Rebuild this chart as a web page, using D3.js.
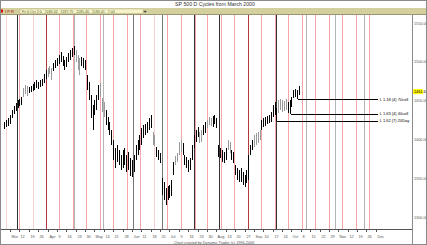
<!DOCTYPE html>
<html>
<head>
<meta charset="utf-8">
<script src="https://cdn.jsdelivr.net/npm/d3@7"></script>
<style>
  body { margin: 0; background: #fff; }
  svg { display: block; font-family: "Liberation Sans", Arial, sans-serif; }
</style>
</head>
<body>
<svg id="chart" width="427" height="245"></svg>
<script>
// daily bars
var highs = [1422,1425,1428,1431,1438,1443,1447,1451,1452,1455,
    1466,1470,1469,1468,1469,1471,1474,1477,1474,1477,
    1478,1484,1489,1492,1495,1492,1498,1502,1505,1509,
    1513,1507,1502,1506,1511,1515,1518,1520,1515,1509,
    1505,1506,1505,1502,1483,1474,1457,1444,1451,1457,
    1470,1473,1453,1448,1438,1429,1422,1412,1399,1389,
    1393,1386,1380,1386,1389,1380,1384,1376,1373,1380,
    1393,1399,1406,1415,1419,1420,1422,1428,1431,1410,
    1406,1390,1386,1383,1350,1345,1337,1340,1341,1348,
    1371,1379,1382,1397,1399,1395,1380,1377,1373,1376,
    1393,1406,1412,1416,1410,1412,1419,1422,1425,1429,
    1428,1430,1431,1428,1393,1389,1386,1384,1389,1399,
    1397,1386,1384,1367,1363,1361,1363,1358,1354,1361,
    1380,1393,1399,1406,1408,1410,1412,1425,1428,1429,
    1430,1431,1435,1444,1448,1440,1451,1452,1451,1449,
    1452,1448,1451,1455,1464,1465,1464,1469];
var lows = [1413,1416,1417,1420,1428,1433,1437,1440,1443,1444,
    1455,1459,1456,1460,1461,1462,1464,1466,1465,1468,
    1469,1473,1478,1480,1484,1477,1488,1492,1495,1497,
    1500,1495,1489,1493,1500,1502,1506,1509,1500,1489,
    1483,1495,1492,1489,1464,1451,1428,1412,1431,1438,
    1451,1455,1435,1429,1419,1412,1406,1393,1373,1363,
    1371,1367,1361,1363,1367,1358,1361,1353,1352,1358,
    1373,1380,1386,1393,1402,1406,1408,1412,1415,1393,
    1392,1377,1373,1370,1328,1322,1315,1322,1324,1327,
    1354,1367,1371,1380,1384,1380,1367,1363,1358,1361,
    1373,1389,1397,1403,1395,1397,1406,1408,1415,1419,
    1417,1416,1420,1415,1377,1376,1371,1370,1373,1386,
    1382,1373,1370,1354,1348,1345,1345,1341,1339,1344,
    1348,1380,1386,1390,1393,1395,1399,1412,1416,1417,
    1420,1421,1422,1429,1431,1424,1434,1438,1435,1437,
    1438,1434,1433,1442,1453,1455,1452,1457];
var lastClose = 1461.62;

// bars drawn grey (time bands)
var greyRanges = [[10,12],[23,25],[38,40],[51,53],[79,80],[91,94],[104,105],[108,110],[119,120],[133,136],[146,150]];

// cycle dates, in bar units
var cyclesFaint = [0.6, 15, 79.5];
var cyclesPink = [7.8, 29.3, 36.5, 43.7, 50.9, 58, 65.2, 72.3, 86.7, 93.9, 101.8, 108.2, 115.4, 122.6, 136.9, 144.1, 151.3, 158.5, 165.6, 172.8, 180, 187.2, 194.3];
var cyclesDark = [22.1, 129.7];
var timeBlack = [6.7, 101.0, 114.4, 144.8];
var timeDarkGrey = [68.6, 84];
var timeGrey = [37.1, 52.6, 160.8, 176.2, 191.7];

// price targets
var levelStart = [156, 152, 145];
var levelPrice = [1452, 1433, 1424];
var levelNames = ["L 1.18 (4) 70cell", "L 1.63 (4) 40cell", "L 1.62 (7) 20Day"];

var priceTicks = [1300, 1350, 1400, 1450, 1500, 1550];
var weekLabels = ["Mar","12","19","26","Apr","9","16","23","30","May","14","21","28","Jun","11","18","25",
    "Jul","9","16","23","30","Aug","13","20","27","Sep","10","17","24","Oct","8","15","22","29",
    "Nov","12","19","26","Dec"];

var title = "SP 500 D Cycles from March 2000";
var quote = "Fri 6 Oct 2:0   1186.34   1187.75   1185.46   1186.01   7.04";
var credit = "Chart created by Dynamic Trader (c) 1996-2006";

var W = 427, H = 245;
var plotRight = 412, plotTop = 15, axisY = 229;

var svg = d3.select("#chart");

var x = d3.scaleLinear().domain([0, 199]).range([4.4, 377.7]);
var y = d3.scaleLinear().domain([1300, 1550]).range([217, 23]);

function px(v) { return Math.round(x(v)) + 0.5; }
function isGrey(i) {
    return greyRanges.some(function (r) { return i >= r[0] && i <= r[1]; });
}

svg.append("rect").attr("width", W).attr("height", H).attr("fill", "#fff");

// title strip
svg.append("text")
    .attr("x", 215).attr("y", 6)
    .attr("text-anchor", "middle")
    .attr("font-size", 5.2)
    .attr("fill", "#333")
    .text(title);

// khaki toolbar
svg.append("rect").attr("x", 0).attr("y", 8).attr("width", W).attr("height", 6)
    .attr("fill", "#d3cf9f");
svg.append("line").attr("x1", 0).attr("x2", W).attr("y1", 14.5).attr("y2", 14.5)
    .attr("stroke", "#9a9670");
svg.append("rect").attr("x", 1).attr("y", 9.5).attr("width", 2).attr("height", 3).attr("fill", "#d00");
svg.append("text").attr("x", 5).attr("y", 13).attr("font-size", 4).attr("fill", "#a00").text("I P R");
svg.append("rect").attr("x", 20).attr("y", 9).attr("width", 123).attr("height", 4.5)
    .attr("fill", "#f6f3c8").attr("stroke", "#b8b48a").attr("stroke-width", 0.5);
svg.append("text").attr("x", 22).attr("y", 12.6).attr("font-size", 3.6).attr("fill", "#556b2f")
    .attr("xml:space", "preserve").text(quote);
svg.append("text").attr("x", 145).attr("y", 13.2).attr("font-size", 6).attr("text-anchor", "middle")
    .attr("fill", "#000").text("+");

// cycle lines
function cycleLines(list, colour) {
    svg.append("g").selectAll("line").data(list).join("line")
        .attr("x1", px).attr("x2", px)
        .attr("y1", plotTop).attr("y2", axisY)
        .attr("stroke", colour).attr("stroke-width", 1)
        .attr("shape-rendering", "crispEdges");
}
cycleLines(cyclesFaint, "#fad2d2");
cycleLines(cyclesPink, "#f5a5a5");
cycleLines(cyclesDark, "#b03a3a");
cycleLines(timeGrey, "#b4b4b4");
cycleLines(timeDarkGrey, "#767676");
cycleLines(timeBlack, "#333");

// price bars
svg.append("g").selectAll("line").data(d3.range(highs.length)).join("line")
    .attr("x1", px).attr("x2", px)
    .attr("y1", function (i) { return y(highs[i]); })
    .attr("y2", function (i) { return y(lows[i]); })
    .attr("stroke", function (i) { return isGrey(i) ? "#9a9a9a" : "#000"; })
    .attr("stroke-width", 1)
    .attr("shape-rendering", "crispEdges");

// target levels
var levels = svg.append("g").selectAll("g").data(levelPrice).join("g");
levels.append("line")
    .attr("x1", function (d, i) { return px(levelStart[i]); })
    .attr("x2", x(199))
    .attr("y1", function (d) { return Math.round(y(d)) + 0.5; })
    .attr("y2", function (d) { return Math.round(y(d)) + 0.5; })
    .attr("stroke", "#000").attr("stroke-width", 1)
    .attr("shape-rendering", "crispEdges");
levels.append("text")
    .attr("x", x(199) + 2)
    .attr("y", function (d) { return y(d) + 1.5; })
    .attr("font-size", 4)
    .attr("fill", "#000")
    .text(function (d, i) { return levelNames[i]; });

// right price axis
svg.append("line").attr("x1", plotRight + 0.5).attr("x2", plotRight + 0.5)
    .attr("y1", plotTop).attr("y2", H)
    .attr("stroke", "#8a8a8a");
svg.append("g").selectAll("text").data(priceTicks).join("text")
    .attr("x", plotRight + 2)
    .attr("y", function (d) { return y(d) + 1.5; })
    .attr("font-size", 3.8)
    .attr("fill", "#555")
    .text(function (d) { return d3.format(".2f")(d); });
svg.append("rect").attr("x", plotRight + 1).attr("y", y(lastClose) - 2.5)
    .attr("width", 10).attr("height", 5).attr("fill", "#ffff00");
svg.append("text").attr("x", plotRight + 2).attr("y", y(lastClose) + 1.5)
    .attr("font-size", 3.8).attr("fill", "#000").text(d3.format(".2f")(lastClose));

// bottom date axis
svg.append("line").attr("x1", 0).attr("x2", plotRight).attr("y1", axisY + 0.5).attr("y2", axisY + 0.5)
    .attr("stroke", "#555");
var ticks = svg.append("g").selectAll("g").data(weekLabels).join("g")
    .attr("transform", function (d, k) { return "translate(" + px(3 + 5 * k) + ",0)"; });
ticks.append("line").attr("y1", axisY).attr("y2", axisY + 3).attr("stroke", "#555");
ticks.append("text")
    .attr("x", 1).attr("y", 238)
    .attr("font-size", 3.8)
    .attr("fill", "#555")
    .text(function (d) { return d; });

svg.append("text").attr("x", 214).attr("y", 244)
    .attr("text-anchor", "middle").attr("font-size", 3.8)
    .attr("fill", "#555").text(credit);

// outer frame
svg.append("rect").attr("x", 0.5).attr("y", 0.5).attr("width", W - 1).attr("height", H - 1)
    .attr("fill", "none").attr("stroke", "#8a8a8a");
</script>
</body>
</html>
